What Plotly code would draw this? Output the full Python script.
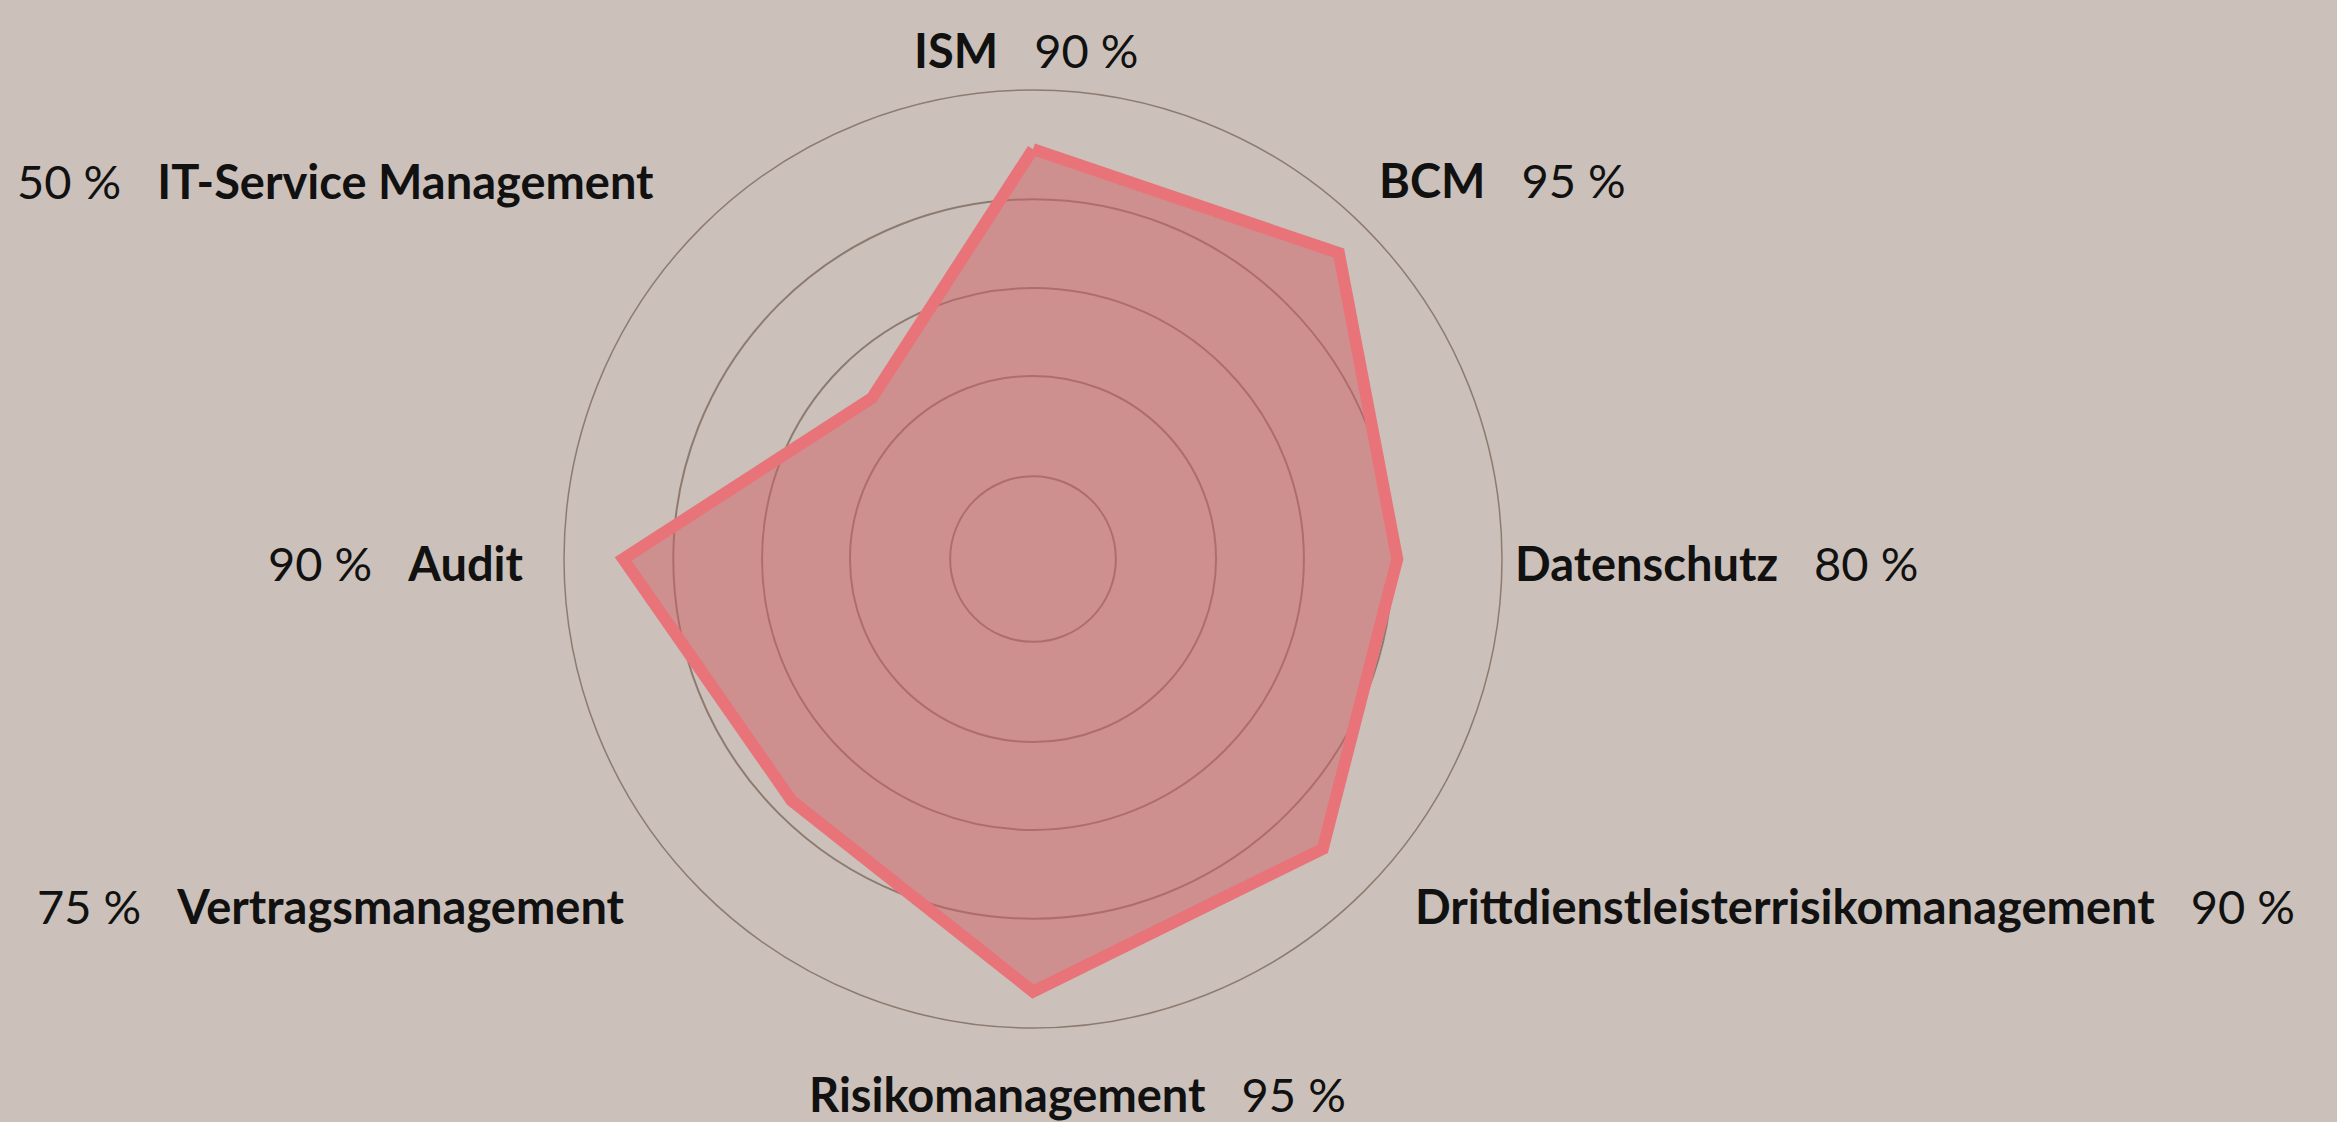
import plotly.graph_objects as go

# ---- data ----
categories = ["ISM", "BCM", "Datenschutz", "Drittdienstleisterrisikomanagement",
              "Risikomanagement", "Vertragsmanagement", "Audit", "IT-Service Management"]
values = [90, 95, 80, 90, 95, 75, 90, 50]
value_labels = ["90 %", "95 %", "80 %", "90 %", "95 %", "75 %", "90 %", "50 %"]
grid_vals = [18.2, 40.2, 59.5, 79]

# ---- layout helpers (pixel geometry of the canvas) ----
W, H = 2337, 1122
cx, cy, R = 1033, 559, 469
# label anchor points (px) and alignment; right-aligned labels show the value first
label_pos = [(912, 50, "left"), (1377, 180, "left"), (1513, 563, "left"),
             (1413, 906, "left"), (807, 1094, "left"), (627, 906, "right"),
             (526, 563, "right"), (656, 181, "right")]

BG = "#CBC1BA"
GRID = "#8E7B70"
FONT = "Lato, 'Noto Sans', sans-serif"

theta = categories + [categories[0]]
r = values + [values[0]]

fig = go.Figure()
fig.add_trace(go.Scatterpolar(
    r=r, theta=theta, mode="lines", fill="toself",
    fillcolor="rgba(207,96,100,0.5)",
    line=dict(color="#E8747A", width=12),
    hoverinfo="skip", showlegend=False,
))

sp = "\u00a0" * 3
annotations = []
for name, val, (px, py, anchor) in zip(categories, value_labels, label_pos):
    if anchor == "left":
        txt = f"<b>{name}</b>{sp}{val}"
    else:
        txt = f"{val}{sp}<b>{name}</b>"
    annotations.append(dict(
        x=px / W, y=1 - py / H, xref="paper", yref="paper",
        xanchor=anchor, yanchor="middle", text=txt, showarrow=False,
        font=dict(family=FONT, size=47, color="#111111"),
    ))

fig.update_layout(
    width=W, height=H,
    paper_bgcolor=BG, plot_bgcolor=BG,
    margin=dict(l=0, r=0, t=0, b=0),
    polar=dict(
        bgcolor=BG,
        domain=dict(x=[(cx - R) / W, (cx + R) / W],
                    y=[1 - (cy + R) / H, 1 - (cy - R) / H]),
        radialaxis=dict(range=[0, 103], tickvals=grid_vals, showticklabels=False,
                        ticks="", showline=False, gridcolor=GRID, gridwidth=1.5),
        angularaxis=dict(direction="clockwise", rotation=90, showticklabels=False,
                         ticks="", showgrid=False, showline=True,
                         linecolor=GRID, linewidth=1.5),
    ),
    annotations=annotations,
)

fig.write_html("out.html",
               config={"displayModeBar": False},
               post_script="document.body.style.margin='0';"
                           "document.body.style.background='#CBC1BA';")
